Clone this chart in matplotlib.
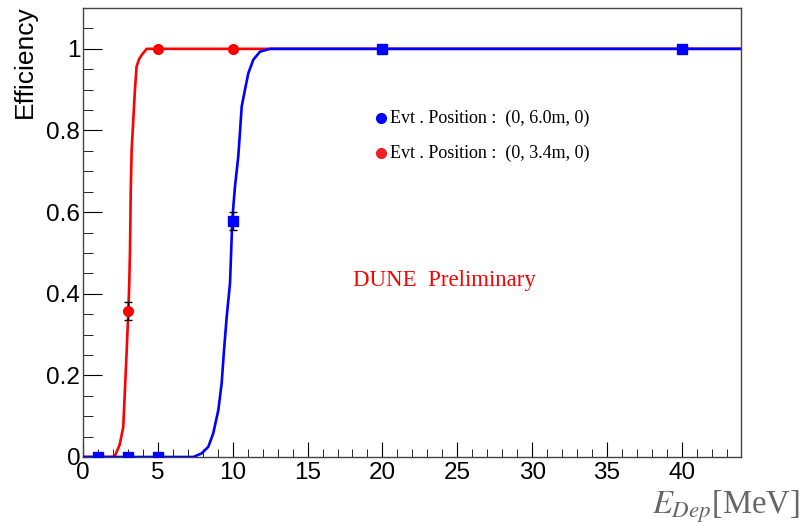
import matplotlib
matplotlib.use("Agg")
import matplotlib.pyplot as plt
from matplotlib.ticker import MultipleLocator

# data
# ---

# measured efficiency points
red_x = [3, 5, 10]
red_eff = [0.358, 1.0, 1.0]
red_err = [0.022, 0.0, 0.0]

blue_x = [1, 3, 5, 10, 20, 40]
blue_eff = [0.0, 0.0, 0.0, 0.578, 1.0, 1.0]
blue_err = [0.0, 0.0, 0.0, 0.023, 0.0, 0.0]

# fitted turn-on curves
red_fit_x = [0, 2.1, 2.45, 2.69, 2.8, 2.92, 3.03, 3.09, 3.14, 3.16, 3.19,
             3.25, 3.36, 3.47, 3.58, 3.75, 3.92, 4.25, 44]
red_fit_y = [0, 0, 0.03, 0.074, 0.164, 0.262, 0.358, 0.426, 0.507, 0.564, 0.654,
             0.752, 0.826, 0.9, 0.957, 0.975, 0.985, 1.0, 1.0]

blue_fit_x = [0, 7.37, 7.93, 8.37, 8.7, 9.04, 9.26, 9.42, 9.6, 9.82, 9.9, 9.97,
              10.04, 10.15, 10.37, 10.48, 10.6, 10.82, 11.04, 11.37, 11.82, 12.49, 44]
blue_fit_y = [0, 0, 0.009, 0.025, 0.058, 0.115, 0.18, 0.262, 0.344, 0.426, 0.507, 0.578,
              0.613, 0.662, 0.736, 0.793, 0.859, 0.9, 0.94, 0.973, 0.993, 1.0, 1.0]

legend_labels = ["Evt . Position :  (0, 6.0m, 0)", "Evt . Position :  (0, 3.4m, 0)"]
ytick_vals = [0, 0.2, 0.4, 0.6, 0.8, 1.0]
ytick_labels = ["0", "0.2", "0.4", "0.6", "0.8", "1"]

# plot
# ---

plt.rcParams["font.family"] = ["Liberation Sans", "DejaVu Sans"]
plt.rcParams["mathtext.fontset"] = "stix"

fig = plt.figure(figsize=(8.05, 5.28), dpi=100)
ax = fig.add_axes([0.1031, 0.1345, 0.8174, 0.8503])

ax.plot(red_fit_x, red_fit_y, color="#ff0000", lw=1.9, zorder=2)
ax.plot(blue_fit_x, blue_fit_y, color="#0000ff", lw=1.9, zorder=3)

ax.errorbar(red_x, red_eff, yerr=red_err, fmt="o", color="#ff0000", ms=7,
            ecolor="black", elinewidth=1, capsize=3, capthick=1, zorder=4)
ax.errorbar(blue_x, blue_eff, yerr=blue_err, fmt="s", color="#0000ff", ms=7,
            ecolor="black", elinewidth=1, capsize=3, capthick=1, zorder=4)

ax.set_xlim(0, 43.95)
ax.set_ylim(0, 1.1)

ax.xaxis.set_major_locator(MultipleLocator(5))
ax.xaxis.set_minor_locator(MultipleLocator(1))
ax.set_yticks(ytick_vals)
ax.set_yticklabels(ytick_labels)
ax.yaxis.set_minor_locator(MultipleLocator(0.05))

ax.tick_params(axis="both", which="both", direction="in", top=False, right=False,
               labelsize=17.5, color="black")
ax.tick_params(axis="y", which="major", length=14, pad=2)
ax.tick_params(axis="y", which="minor", length=7)
ax.tick_params(axis="x", which="major", length=11, pad=3.5)
ax.tick_params(axis="x", which="minor", length=6)

for s in ax.spines.values():
    s.set_color("#444444")
    s.set_linewidth(1.0)

# legend drawn by hand, ROOT style
ax.plot([0.453], [0.755], "o", color="#0000ff", ms=7, transform=ax.transAxes, clip_on=False)
ax.plot([0.453], [0.677], "o", color="#ee2222", ms=7, transform=ax.transAxes, clip_on=False)
ax.text(0.4666, 0.755, legend_labels[0], transform=ax.transAxes, va="center", ha="left",
        family="Liberation Serif", fontsize=13)
ax.text(0.4666, 0.677, legend_labels[1], transform=ax.transAxes, va="center", ha="left",
        family="Liberation Serif", fontsize=13)

ax.text(0.549, 0.392, "DUNE  Preliminary", transform=ax.transAxes, color="#ff0000",
        ha="center", va="center", family="Liberation Serif", fontsize=16.5)

fig.text(0.031, 0.99, "Efficiency", rotation=90, ha="center", va="top", fontsize=19)
fig.text(0.994, 0.04, r"$E_{Dep}$[MeV]", ha="right", va="center", color="#666666",
         family="Liberation Serif", fontsize=23.5)

fig.savefig("out.png", dpi=100)
plt.close(fig)
